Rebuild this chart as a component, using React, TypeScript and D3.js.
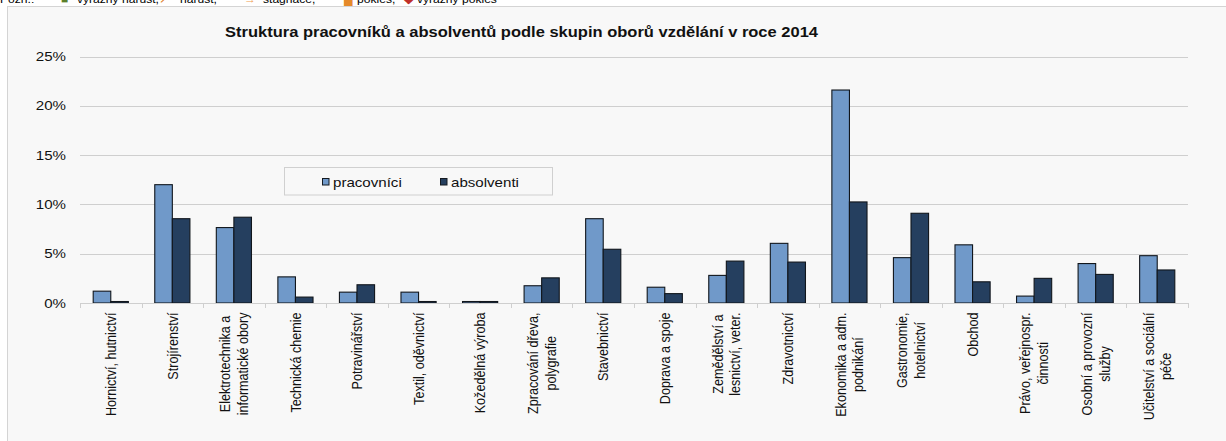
import React, { useEffect, useRef } from "react";
import * as d3 from "d3";

const categories: string[][] = [
  ["Hornictví, hutnictví"],
  ["Strojírenství"],
  ["Elektrotechnika a", "informatické obory"],
  ["Technická chemie"],
  ["Potravinářství"],
  ["Textil, oděvnictví"],
  ["Kožedělná výroba"],
  ["Zpracování dřeva,", "polygrafie"],
  ["Stavebnictví"],
  ["Doprava a spoje"],
  ["Zemědělství a", "lesnictví, veter."],
  ["Zdravotnictví"],
  ["Ekonomika a adm.", "podnikání"],
  ["Gastronomie,", "hotelnictví"],
  ["Obchod"],
  ["Právo, veřejnospr.", "činnosti"],
  ["Osobní a provozní", "služby"],
  ["Učitelství a sociální", "péče"],
];

const pracovnici = [1.2, 12.0, 7.65, 2.65, 1.1, 1.1, 0.15, 1.75, 8.55, 1.6, 2.8, 6.05, 21.6, 4.6, 5.9, 0.7, 4.0, 4.8];
const absolventi = [0.15, 8.55, 8.7, 0.6, 1.85, 0.15, 0.15, 2.55, 5.45, 0.95, 4.25, 4.15, 10.25, 9.1, 2.15, 2.5, 2.9, 3.35];

const seriesNames = ["pracovníci", "absolventi"];
const seriesColors = ["#7099c9", "#253f5f"];
const yTicks = [0, 5, 10, 15, 20, 25];

const title = "Struktura pracovníků a absolventů podle skupin oborů vzdělání v roce 2014";
const noteTexts = ["Pozn.:", "■", "výrazný nárůst,", "↗", "nárůst,", "→", "stagnace,", "▄", "pokles,", "◆", "výrazný pokles"];
const noteColors = ["#000", "#5b7f2b", "#000", "#e07b1a", "#000", "#f0a050", "#000", "#e58a2a", "#000", "#c0302a", "#000"];

const W = 1226;
const H = 441;
const FONT = "Liberation Sans, Arial, sans-serif";
const SX = 1.18;

export default function App() {
  const ref = useRef<SVGSVGElement | null>(null);

  useEffect(() => {
    const svg = d3.select(ref.current!);
    svg.selectAll("*").remove();

    svg.append("rect").attr("width", W).attr("height", H).attr("fill", "#ffffff");

    // top note strip (cut off at the top edge, as in the reference)
    const note = svg.append("g").attr("font-family", FONT).attr("font-size", 11);
    const noteX = [0, 61, 77, 159, 180, 244, 263, 344, 357, 404, 417];
    noteTexts.forEach((t, i) => {
      note.append("g")
        .attr("transform", `translate(${noteX[i]},3) scale(1.1,1)`)
        .append("text")
        .attr("fill", noteColors[i])
        .text(t);
    });

    // chart frame
    svg
      .append("rect")
      .attr("x", 7.5)
      .attr("y", 6.5)
      .attr("width", W + 10)
      .attr("height", H + 10)
      .attr("fill", "#f8f8f8")
      .attr("stroke", "#d4d4d4")
      .attr("stroke-width", 1);

    const x0 = 80;
    const x1 = 1188;
    const x = d3.scaleBand<number>().domain(d3.range(categories.length)).range([x0, x1]).padding(0);
    const bw = x.bandwidth();
    const xs = d3.scaleBand<number>().domain([0, 1]).range([bw * 0.2145, bw * 0.7855]).padding(0);
    const y = d3.scaleLinear().domain([0, 25]).range([303, 56.5]);

    // gridlines
    svg
      .append("g")
      .selectAll("line")
      .data(yTicks.filter((d) => d > 0))
      .join("line")
      .attr("x1", x0)
      .attr("x2", x1)
      .attr("y1", (d) => Math.round(y(d)) + 0.5)
      .attr("y2", (d) => Math.round(y(d)) + 0.5)
      .attr("stroke", "#cfcfcf")
      .attr("stroke-width", 1);

    // y tick labels
    const yl = svg.append("g").attr("font-family", FONT).attr("font-size", 12.8).attr("fill", "#111");
    yTicks.forEach((t) => {
      yl.append("g")
        .attr("transform", `translate(66,${y(t)}) scale(${SX},1)`)
        .append("text")
        .attr("text-anchor", "end")
        .attr("dy", "0.36em")
        .text(`${t}%`);
    });

    // bars
    const series = [pracovnici, absolventi];
    series.forEach((vals, s) => {
      svg
        .append("g")
        .selectAll("rect")
        .data(vals)
        .join("rect")
        .attr("x", (_d, i) => (x(i) as number) + (xs(s) as number))
        .attr("y", (d) => y(d))
        .attr("width", xs.bandwidth())
        .attr("height", (d) => y(0) - y(d))
        .attr("fill", seriesColors[s])
        .attr("stroke", "#11161c")
        .attr("stroke-width", 1.1);
    });

    // x axis line + ticks
    const ax = svg.append("g");
    ax.append("line")
      .attr("x1", x0)
      .attr("x2", x1)
      .attr("y1", Math.round(y(0)) + 0.5)
      .attr("y2", Math.round(y(0)) + 0.5)
      .attr("stroke", "#cfcfcf");
    d3.range(categories.length + 1).forEach((i) => {
      const xx = Math.round(x0 + i * bw) + 0.5;
      ax.append("line")
        .attr("x1", xx)
        .attr("x2", xx)
        .attr("y1", y(0))
        .attr("y2", y(0) + 5)
        .attr("stroke", "#cfcfcf");
    });

    // x labels (rotated)
    const xl = svg.append("g").attr("font-family", FONT).attr("font-size", 12.6).attr("fill", "#111");
    const top = 312.5;
    const lineH = 15;
    categories.forEach((lines, i) => {
      const cx = (x(i) as number) + bw / 2;
      const g = xl.append("g");
      const texts = lines.map((ln) => g.append("text").text(ln));
      const lens = texts.map((t) => (t.node() as SVGTextElement).getComputedTextLength());
      const maxLen = d3.max(lens) || 0;
      const center = top + maxLen / 2;
      g.attr("transform", `translate(${cx},${center}) rotate(-90) scale(1,${SX})`);
      const n = lines.length;
      texts.forEach((t, k) => {
        t.attr("text-anchor", "middle")
          .attr("x", 0)
          .attr("y", (k - (n - 1) / 2) * lineH)
          .attr("dy", "0.35em");
      });
    });

    // title
    svg
      .append("text")
      .attr("x", 225)
      .attr("y", 36.7)
      .attr("font-family", FONT)
      .attr("font-weight", "bold")
      .attr("font-size", 14.8)
      .attr("fill", "#111")
      .attr("textLength", 593)
      .attr("lengthAdjust", "spacingAndGlyphs")
      .text(title);

    // legend
    const lg = svg.append("g");
    lg.append("rect")
      .attr("x", 284.5)
      .attr("y", 167.5)
      .attr("width", 268)
      .attr("height", 27.5)
      .attr("fill", "#f8f8f8")
      .attr("stroke", "#d0d0d0");
    const legX = [322, 440];
    seriesNames.forEach((nm, s) => {
      lg.append("rect")
        .attr("x", legX[s] + 0.5)
        .attr("y", 178.5)
        .attr("width", 6.5)
        .attr("height", 6.5)
        .attr("fill", seriesColors[s])
        .attr("stroke", "#151a20");
      lg.append("g")
        .attr("transform", `translate(${legX[s] + 11},${182}) scale(${SX},1)`)
        .append("text")
        .attr("font-family", FONT)
        .attr("font-size", 12.8)
        .attr("fill", "#111")
        .attr("dy", "0.36em")
        .text(nm);
    });
  }, []);

  return (
    <div style={{ position: "absolute", left: 0, top: 0 }}>
      <svg ref={ref} width={W} height={H} style={{ display: "block" }} />
    </div>
  );
}
